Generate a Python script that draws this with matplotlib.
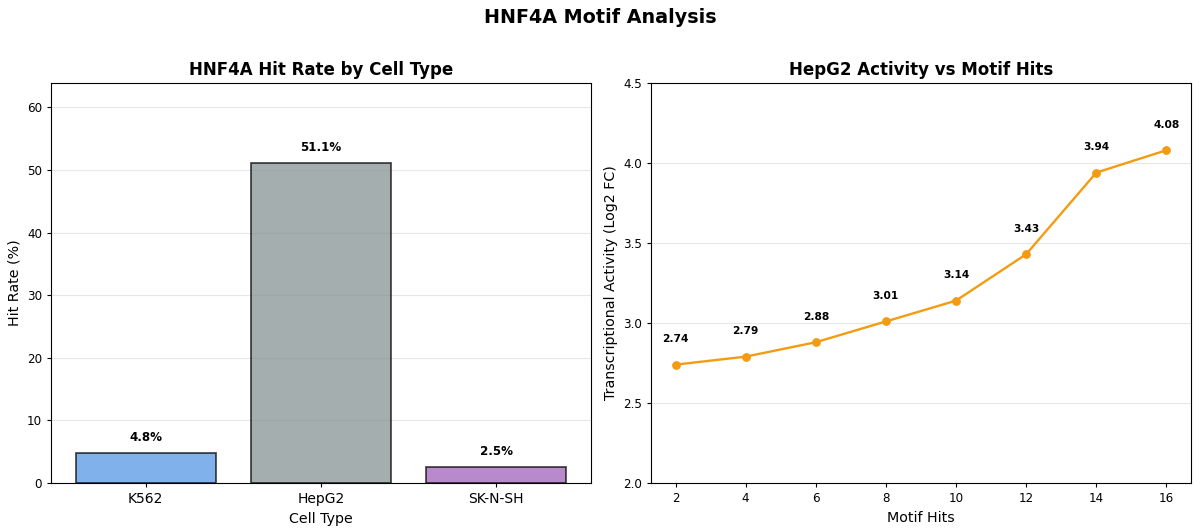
import matplotlib
matplotlib.use('Agg')
import matplotlib.pyplot as plt
import numpy as np

# Data
cell_types = ['K562', 'HepG2', 'SK-N-SH']
hit_rates = [4.8, 51.1, 2.5]
bar_colors = ['#4a90e2', '#7f8c8d', '#9b59b6']

motif_hits = [2, 4, 6, 8, 10, 12, 14, 16]
activity = [2.74, 2.79, 2.88, 3.01, 3.14, 3.43, 3.94, 4.08]

plt.rcParams['xtick.labelsize'] = 8.6
plt.rcParams['ytick.labelsize'] = 8.6
plt.rcParams['xtick.major.size'] = 3.0
plt.rcParams['ytick.major.size'] = 3.0

fig, (ax1, ax2) = plt.subplots(1, 2, figsize=(12, 5.32), dpi=100)
fig.suptitle('HNF4A Motif Analysis', fontsize=13.8, fontweight='bold', y=0.985)

# Left: hit rate bars
bars = ax1.bar(cell_types, hit_rates, color=bar_colors, alpha=0.7,
               edgecolor='black', linewidth=1.3)
for b in bars:
    b.set_edgecolor((0, 0, 0, 0.7))
for b, v in zip(bars, hit_rates):
    ax1.text(b.get_x() + b.get_width() / 2, v + 1.5, f'{v:.1f}%',
             ha='center', va='bottom', fontsize=8.6, fontweight='bold')
ax1.set_title('HNF4A Hit Rate by Cell Type', fontsize=12, fontweight='bold')
ax1.set_xlabel('Cell Type', fontsize=10.3)
ax1.set_ylabel('Hit Rate (%)', fontsize=10.3)
ax1.set_ylim(0, max(hit_rates) * 1.25)
ax1.tick_params(axis='x', labelsize=10)
ax1.grid(axis='y', alpha=0.3)
ax1.set_axisbelow(True)

# Right: activity vs motif hits
ax2.plot(motif_hits, activity, color='#f39c12', marker='o', linewidth=1.7,
         markersize=5.3)
for x, y in zip(motif_hits, activity):
    ax2.annotate(f'{y:.2f}', (x, y), textcoords='offset points',
                 xytext=(0, 16), ha='center', fontsize=7.7, fontweight='bold')
ax2.set_title('HepG2 Activity vs Motif Hits', fontsize=12, fontweight='bold')
ax2.set_xlabel('Motif Hits', fontsize=10.3)
ax2.set_ylabel('Transcriptional Activity (Log2 FC)', fontsize=10.3)
ax2.set_ylim(2.0, 4.5)
ax2.set_xticks(motif_hits)
ax2.grid(axis='y', alpha=0.3)
ax2.set_axisbelow(True)

fig.subplots_adjust(left=0.0425, right=0.9925, top=0.844, bottom=0.092,
                    wspace=0.111)
plt.savefig('out.png', dpi=100)
